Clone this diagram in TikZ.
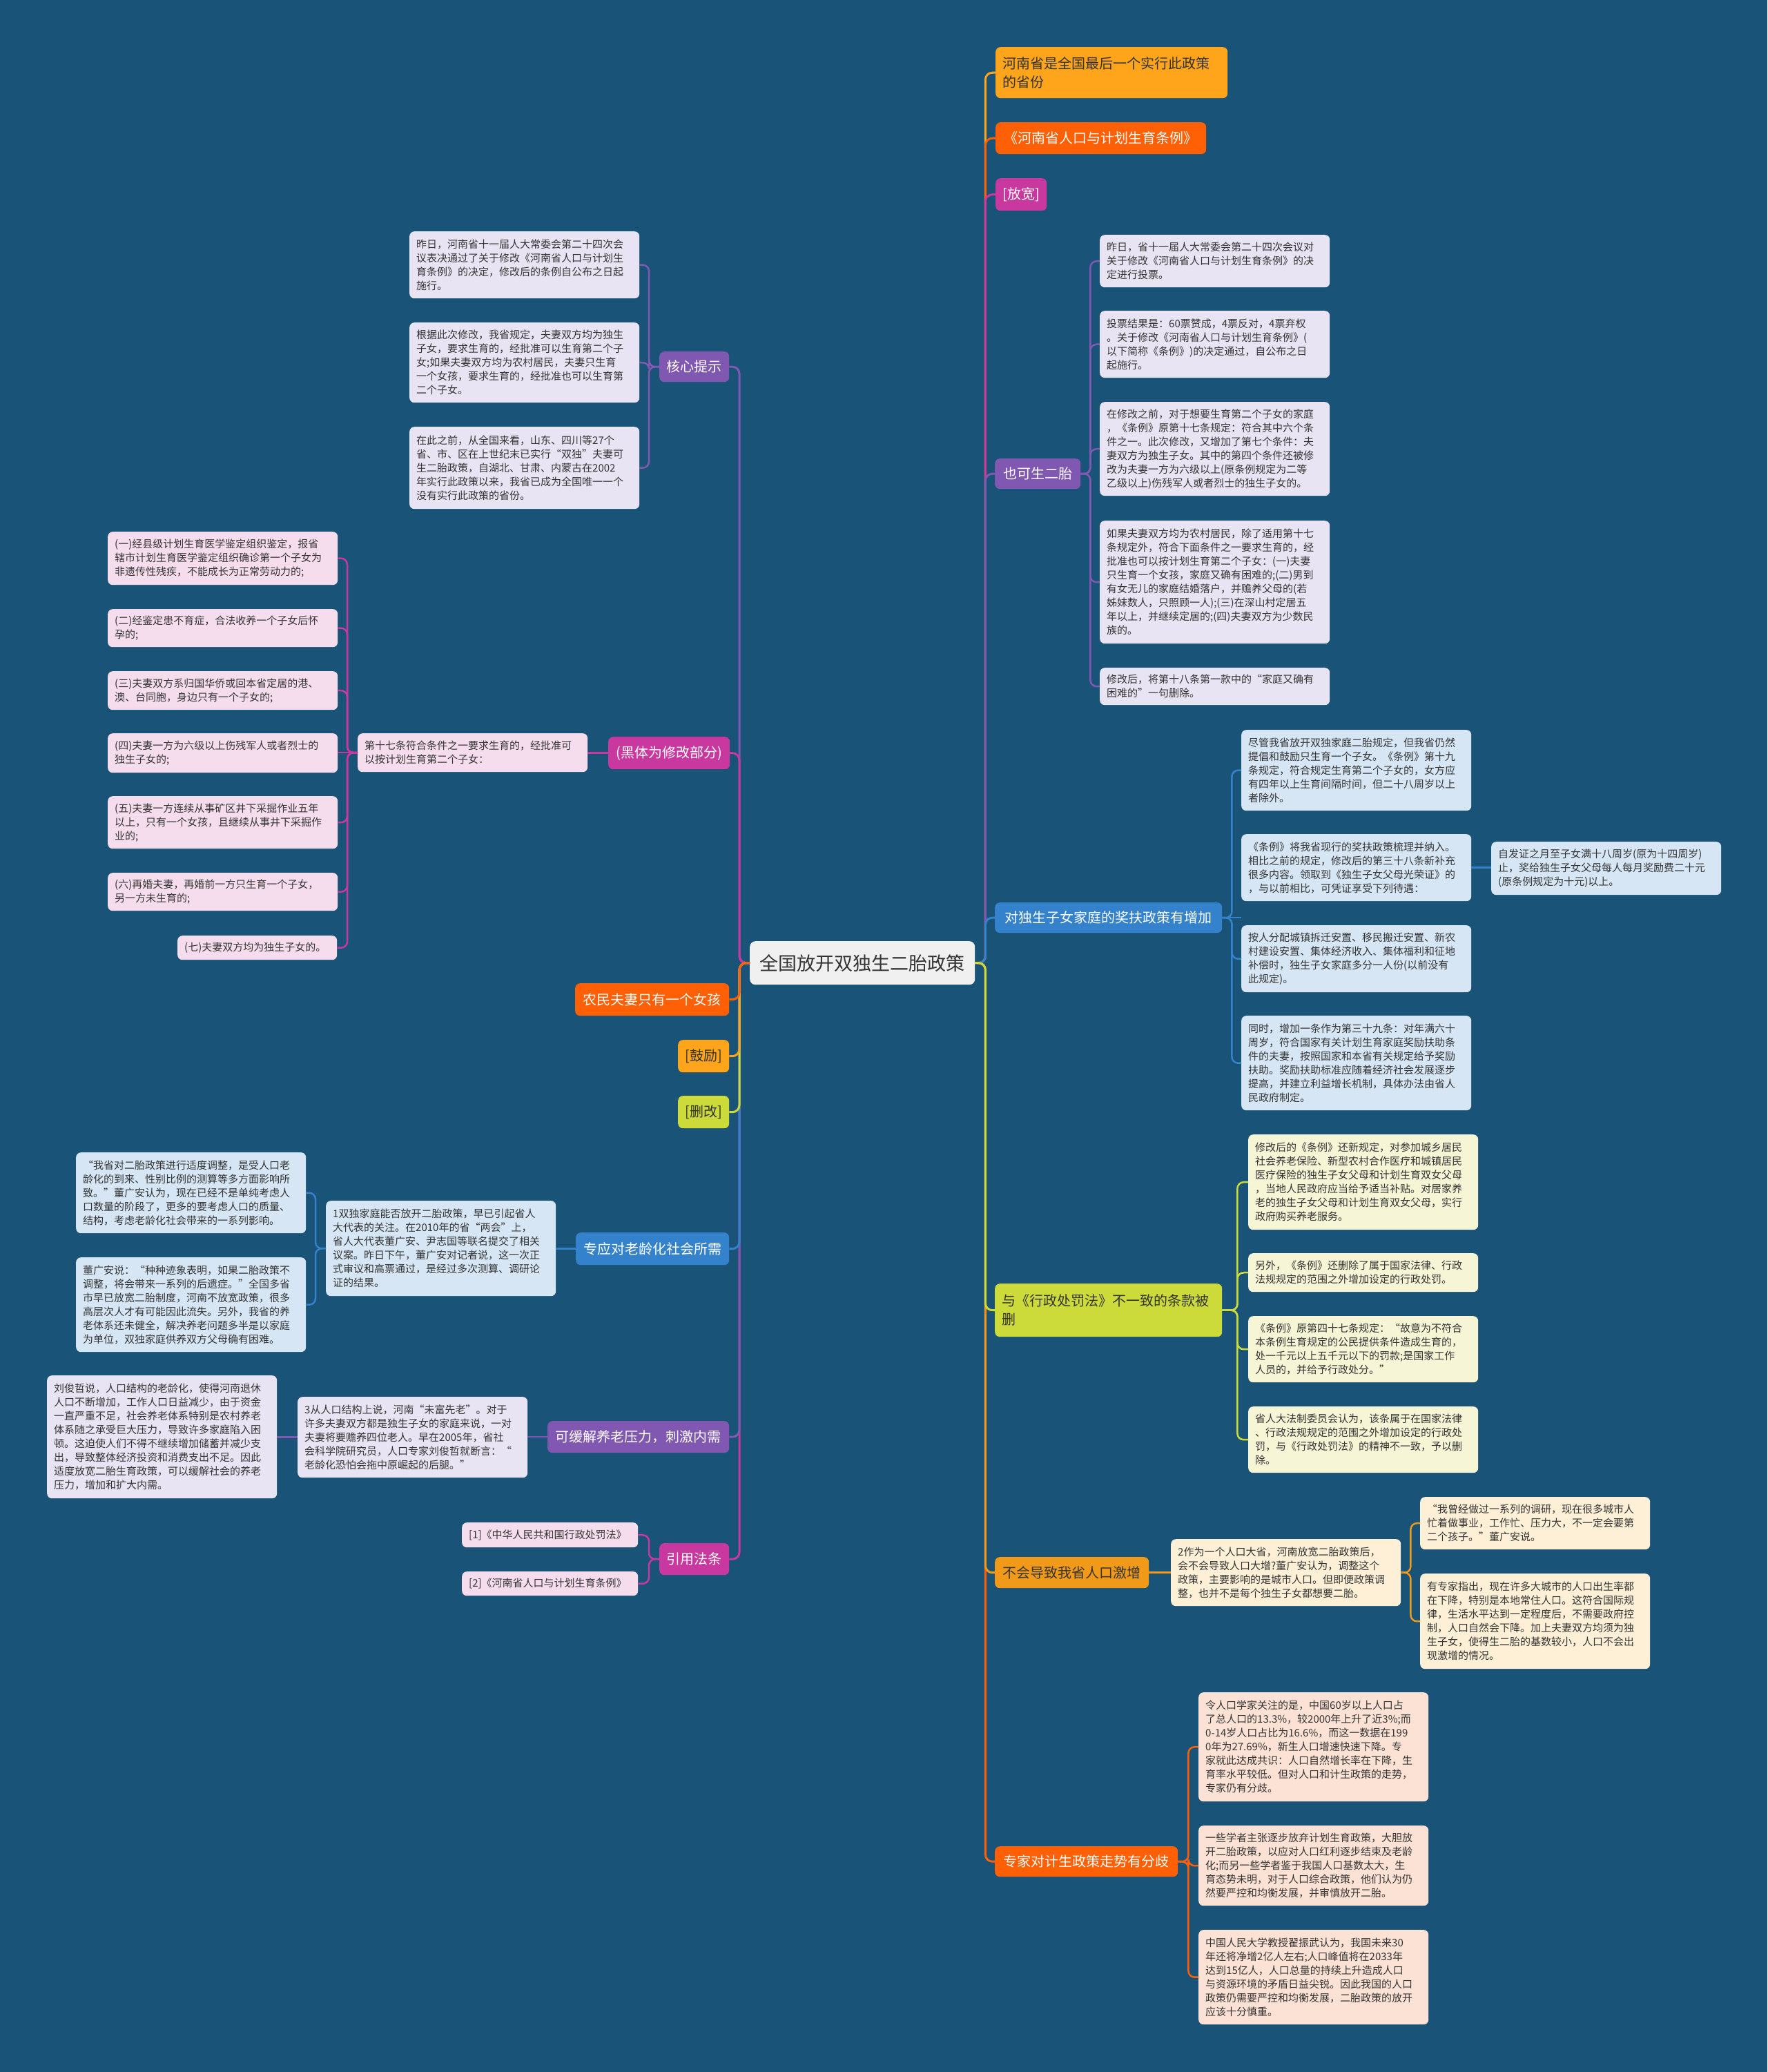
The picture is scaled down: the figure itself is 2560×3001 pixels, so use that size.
\documentclass[tikz,border=0pt]{standalone}
\usepackage{fontspec}
\setmainfont{Noto Sans CJK SC}
\usepackage{tikz}
\usetikzlibrary{calc}

\definecolor{bgblue}{RGB}{26,83,120}
\definecolor{rootgray}{RGB}{240,240,240}
\definecolor{inkdark}{RGB}{51,51,51}
\definecolor{cGold}{RGB}{255,165,28}
\definecolor{cRed}{RGB}{255,95,5}
\definecolor{cMagenta}{RGB}{200,56,158}
\definecolor{cPurple}{RGB}{128,88,178}
\definecolor{cBlue}{RGB}{52,130,204}
\definecolor{cLime}{RGB}{204,219,57}
\definecolor{cAmber}{RGB}{241,154,25}
\definecolor{fLav}{RGB}{232,228,243}
\definecolor{fPink}{RGB}{246,221,238}
\definecolor{fSky}{RGB}{214,230,245}
\definecolor{fLime}{RGB}{246,245,214}
\definecolor{fCream}{RGB}{253,240,214}
\definecolor{fPeach}{RGB}{252,226,212}

\newcommand\rootfont{\fontsize{27}{32}\selectfont}
\newcommand\topicfont{\fontsize{20}{27}\selectfont}
\newcommand\notefont{\fontsize{15}{20}\selectfont}

\begin{document}
\begin{tikzpicture}[
    x=1pt, y=-1pt,
    root/.style={fill=rootgray, rounded corners=8pt, anchor=north west, font=\rootfont, text=inkdark, minimum width=326pt, minimum height=63pt, inner sep=0pt},
    topic/.style={fill=#1, rounded corners=7pt, anchor=north west, font=\topicfont, text=white, inner sep=0pt},
    note/.style={fill=#1, rounded corners=7pt, anchor=north west, font=\notefont, text=inkdark, align=left, inner xsep=10pt, inner ysep=4pt, minimum width=333pt, text width=313pt},
    link/.style={draw=#1, line width=3pt, rounded corners=10pt},
    sublink/.style={draw=#1, line width=2.5pt, rounded corners=9pt}
]
\useasboundingbox (0,0) rectangle (2560,3001);
\fill[bgblue] (0,0) rectangle (2560,3001);

% centre
\node[root] (root) at (1086,1363) {全国放开双独生二胎政策};

% left topics
\node[topic=cPurple, minimum width=101pt, minimum height=44pt] (hx) at (955,509) {核心提示};
\node[topic=cMagenta, minimum width=176pt, minimum height=47pt] (hb) at (881,1067) {(黑体为修改部分)};
\node[topic=cRed, minimum width=223pt, minimum height=47pt] (nm) at (833,1424) {农民夫妻只有一个女孩};
\node[topic=cGold, text=inkdark, minimum width=74pt, minimum height=47pt] (gl) at (982,1506) {[鼓励]};
\node[topic=cLime, text=inkdark, minimum width=74pt, minimum height=47pt] (sg) at (982,1587) {[删改]};
\node[topic=cBlue, minimum width=222pt, minimum height=47pt] (ll) at (834,1785) {专应对老龄化社会所需};
\node[topic=cPurple, minimum width=263pt, minimum height=46pt] (yl) at (793,2058) {可缓解养老压力，刺激内需};
\node[topic=cMagenta, minimum width=101pt, minimum height=46pt] (yf) at (955,2235) {引用法条};

% right topics
\node[topic=cGold, text=inkdark, minimum width=336pt, minimum height=74pt, text width=316pt, align=left] (zh) at (1442,68) {河南省是全国最后一个实行此政策\\的省份};
\node[topic=cRed, minimum width=305pt, minimum height=46pt] (tl) at (1442,177) {《河南省人口与计划生育条例》};
\node[topic=cMagenta, minimum width=74pt, minimum height=47pt] (fk) at (1442,258) {[放宽]};
\node[topic=cPurple, minimum width=124pt, minimum height=44pt] (ek) at (1441,664) {也可生二胎};
\node[topic=cBlue, minimum width=329pt, minimum height=44pt] (jf) at (1441,1307) {对独生子女家庭的奖扶政策有增加};
\node[topic=cLime, text=inkdark, minimum width=329pt, minimum height=77pt, text width=309pt, align=left] (cf) at (1441,1859) {与《行政处罚法》不一致的条款被\\删};
\node[topic=cAmber, text=inkdark, minimum width=223pt, minimum height=45pt] (jz) at (1441,2255) {不会导致我省人口激增};
\node[topic=cRed, minimum width=265pt, minimum height=44pt] (fq) at (1441,2674) {专家对计生政策走势有分歧};

% 核心提示
\node[note=fLav, minimum height=97pt] (hx1) at (593,335) {昨日，河南省十一届人大常委会第二十四次会\\议表决通过了关于修改《河南省人口与计划生\\育条例》的决定，修改后的条例自公布之日起\\施行。};
\node[note=fLav, minimum height=116pt] (hx2) at (593,467) {根据此次修改，我省规定，夫妻双方均为独生\\子女，要求生育的，经批准可以生育第二个子\\女;如果夫妻双方均为农村居民，夫妻只生育\\一个女孩，要求生育的，经批准也可以生育第\\二个子女。};
\node[note=fLav, minimum height=119pt] (hx3) at (593,618) {在此之前，从全国来看，山东、四川等27个\\省、市、区在上世纪末已实行“双独”夫妻可\\生二胎政策，自湖北、甘肃、内蒙古在2002\\年实行此政策以来，我省已成为全国唯一一个\\没有实行此政策的省份。};

% 黑体为修改部分
\node[note=fPink, minimum height=56pt] (hb0) at (518,1062) {第十七条符合条件之一要求生育的，经批准可\\以按计划生育第二个子女：};
\node[note=fPink, minimum height=77pt] (hb1) at (156,770) {(一)经县级计划生育医学鉴定组织鉴定，报省\\辖市计划生育医学鉴定组织确诊第一个子女为\\非遗传性残疾，不能成长为正常劳动力的;};
\node[note=fPink, minimum height=55pt] (hb2) at (156,882) {(二)经鉴定患不育症，合法收养一个子女后怀\\孕的;};
\node[note=fPink, minimum height=56pt] (hb3) at (156,972) {(三)夫妻双方系归国华侨或回本省定居的港、\\澳、台同胞，身边只有一个子女的;};
\node[note=fPink, minimum height=57pt] (hb4) at (156,1062) {(四)夫妻一方为六级以上伤残军人或者烈士的\\独生子女的;};
\node[note=fPink, minimum height=76pt] (hb5) at (156,1153) {(五)夫妻一方连续从事矿区井下采掘作业五年\\以上，只有一个女孩，且继续从事井下采掘作\\业的;};
\node[note=fPink, minimum height=55pt] (hb6) at (156,1264) {(六)再婚夫妻，再婚前一方只生育一个子女，\\另一方未生育的;};
\node[note=fPink, minimum height=35pt, minimum width=231pt, text width=211pt] (hb7) at (257,1355) {(七)夫妻双方均为独生子女的。};

% 老龄化
\node[note=fSky, minimum height=138pt] (ll0) at (472,1739) {1双独家庭能否放开二胎政策，早已引起省人\\大代表的关注。在2010年的省“两会”上，\\省人大代表董广安、尹志国等联名提交了相关\\议案。昨日下午，董广安对记者说，这一次正\\式审议和高票通过，是经过多次测算、调研论\\证的结果。};
\node[note=fSky, minimum height=117pt] (ll1) at (110,1669) {“我省对二胎政策进行适度调整，是受人口老\\龄化的到来、性别比例的测算等多方面影响所\\致。”董广安认为，现在已经不是单纯考虑人\\口数量的阶段了，更多的要考虑人口的质量、\\结构，考虑老龄化社会带来的一系列影响。};
\node[note=fSky, minimum height=137pt] (ll2) at (110,1821) {董广安说：“种种迹象表明，如果二胎政策不\\调整，将会带来一系列的后遗症。”全国多省\\市早已放宽二胎制度，河南不放宽政策，很多\\高层次人才有可能因此流失。另外，我省的养\\老体系还未健全，解决养老问题多半是以家庭\\为单位，双独家庭供养双方父母确有困难。};

% 养老压力
\node[note=fLav, minimum height=117pt] (yl0) at (431,2023) {3从人口结构上说，河南“未富先老”。对于\\许多夫妻双方都是独生子女的家庭来说，一对\\夫妻将要赡养四位老人。早在2005年，省社\\会科学院研究员，人口专家刘俊哲就断言：“\\老龄化恐怕会拖中原崛起的后腿。”};
\node[note=fLav, minimum height=178pt] (yl1) at (68,1992) {刘俊哲说，人口结构的老龄化，使得河南退休\\人口不断增加，工作人口日益减少，由于资金\\一直严重不足，社会养老体系特别是农村养老\\体系随之承受巨大压力，导致许多家庭陷入困\\顿。这迫使人们不得不继续增加储蓄并减少支\\出，导致整体经济投资和消费支出不足。因此\\适度放宽二胎生育政策，可以缓解社会的养老\\压力，增加和扩大内需。};

% 引用法条
\node[note=fPink, minimum height=36pt, minimum width=255pt, text width=235pt] (yf1) at (669,2205) {[1]《中华人民共和国行政处罚法》};
\node[note=fPink, minimum height=35pt, minimum width=255pt, text width=235pt] (yf2) at (669,2276) {[2]《河南省人口与计划生育条例》};

% 也可生二胎
\node[note=fLav, minimum height=76pt] (ek1) at (1593,340) {昨日，省十一届人大常委会第二十四次会议对\\关于修改《河南省人口与计划生育条例》的决\\定进行投票。};
\node[note=fLav, minimum height=97pt] (ek2) at (1593,450) {投票结果是：60票赞成，4票反对，4票弃权\\。关于修改《河南省人口与计划生育条例》(\\以下简称《条例》)的决定通过，自公布之日\\起施行。};
\node[note=fLav, minimum height=136pt] (ek3) at (1593,582) {在修改之前，对于想要生育第二个子女的家庭\\，《条例》原第十七条规定：符合其中六个条\\件之一。此次修改，又增加了第七个条件：夫\\妻双方为独生子女。其中的第四个条件还被修\\改为夫妻一方为六级以上(原条例规定为二等\\乙级以上)伤残军人或者烈士的独生子女的。};
\node[note=fLav, minimum height=178pt] (ek4) at (1593,754) {如果夫妻双方均为农村居民，除了适用第十七\\条规定外，符合下面条件之一要求生育的，经\\批准也可以按计划生育第二个子女：(一)夫妻\\只生育一个女孩，家庭又确有困难的;(二)男到\\有女无儿的家庭结婚落户，并赡养父母的(若\\姊妹数人，只照顾一人);(三)在深山村定居五\\年以上，并继续定居的;(四)夫妻双方为少数民\\族的。};
\node[note=fLav, minimum height=54pt] (ek5) at (1593,967) {修改后，将第十八条第一款中的“家庭又确有\\困难的”一句删除。};

% 奖扶政策
\node[note=fSky, minimum height=117pt] (jf1) at (1798,1057) {尽管我省放开双独家庭二胎规定，但我省仍然\\提倡和鼓励只生育一个子女。《条例》第十九\\条规定，符合规定生育第二个子女的，女方应\\有四年以上生育间隔时间，但二十八周岁以上\\者除外。};
\node[note=fSky, minimum height=97pt] (jf2) at (1798,1208) {《条例》将我省现行的奖扶政策梳理并纳入。\\相比之前的规定，修改后的第三十八条新补充\\很多内容。领取到《独生子女父母光荣证》的\\，与以前相比，可凭证享受下列待遇：};
\node[note=fSky, minimum height=77pt] (jf21) at (2160,1219) {自发证之月至子女满十八周岁(原为十四周岁)\\止，奖给独生子女父母每人每月奖励费二十元\\(原条例规定为十元)以上。};
\node[note=fSky, minimum height=97pt] (jf3) at (1798,1340) {按人分配城镇拆迁安置、移民搬迁安置、新农\\村建设安置、集体经济收入、集体福利和征地\\补偿时，独生子女家庭多分一人份(以前没有\\此规定)。};
\node[note=fSky, minimum height=137pt] (jf4) at (1798,1471) {同时，增加一条作为第三十九条：对年满六十\\周岁，符合国家有关计划生育家庭奖励扶助条\\件的夫妻，按照国家和本省有关规定给予奖励\\扶助。奖励扶助标准应随着经济社会发展逐步\\提高，并建立利益增长机制，具体办法由省人\\民政府制定。};

% 行政处罚法
\node[note=fLime, minimum height=138pt] (cf1) at (1808,1643) {修改后的《条例》还新规定，对参加城乡居民\\社会养老保险、新型农村合作医疗和城镇居民\\医疗保险的独生子女父母和计划生育双女父母\\，当地人民政府应当给予适当补贴。对居家养\\老的独生子女父母和计划生育双女父母，实行\\政府购买养老服务。};
\node[note=fLime, minimum height=56pt] (cf2) at (1808,1815) {另外，《条例》还删除了属于国家法律、行政\\法规规定的范围之外增加设定的行政处罚。};
\node[note=fLime, minimum height=96pt] (cf3) at (1808,1906) {《条例》原第四十七条规定：“故意为不符合\\本条例生育规定的公民提供条件造成生育的，\\处一千元以上五千元以下的罚款;是国家工作\\人员的，并给予行政处分。”};
\node[note=fLime, minimum height=96pt] (cf4) at (1808,2037) {省人大法制委员会认为，该条属于在国家法律\\、行政法规规定的范围之外增加设定的行政处\\罚，与《行政处罚法》的精神不一致，予以删\\除。};

% 人口激增
\node[note=fCream, minimum height=97pt] (jz0) at (1696,2229) {2作为一个人口大省，河南放宽二胎政策后，\\会不会导致人口大增?董广安认为，调整这个\\政策，主要影响的是城市人口。但即便政策调\\整，也并不是每个独生子女都想要二胎。};
\node[note=fCream, minimum height=76pt] (jz1) at (2057,2168) {“我曾经做过一系列的调研，现在很多城市人\\忙着做事业，工作忙、压力大，不一定会要第\\二个孩子。”董广安说。};
\node[note=fCream, minimum height=138pt] (jz2) at (2057,2279) {有专家指出，现在许多大城市的人口出生率都\\在下降，特别是本地常住人口。这符合国际规\\律，生活水平达到一定程度后，不需要政府控\\制，人口自然会下降。加上夫妻双方均须为独\\生子女，使得生二胎的基数较小，人口不会出\\现激增的情况。};

% 专家分歧
\node[note=fPeach, minimum height=158pt] (fq1) at (1736,2451) {令人口学家关注的是，中国60岁以上人口占\\了总人口的13.3\%，较2000年上升了近3\%;而\\0-14岁人口占比为16.6\%，而这一数据在199\\0年为27.69\%，新生人口增速快速下降。专\\家就此达成共识：人口自然增长率在下降，生\\育率水平较低。但对人口和计生政策的走势，\\专家仍有分歧。};
\node[note=fPeach, minimum height=116pt] (fq2) at (1736,2644) {一些学者主张逐步放弃计划生育政策，大胆放\\开二胎政策，以应对人口红利逐步结束及老龄\\化;而另一些学者鉴于我国人口基数太大，生\\育态势未明，对于人口综合政策，他们认为仍\\然要严控和均衡发展，并审慎放开二胎。};
\node[note=fPeach, minimum height=137pt] (fq3) at (1736,2795) {中国人民大学教授翟振武认为，我国未来30\\年还将净增2亿人左右;人口峰值将在2033年\\达到15亿人，人口总量的持续上升造成人口\\与资源环境的矛盾日益尖锐。因此我国的人口\\政策仍需要严控和均衡发展，二胎政策的放开\\应该十分慎重。};

% trunk, left
\draw[link=cPurple] (root.west) -- ++(-15,0) |- (hx.east);
\draw[link=cMagenta] (root.west) -- ++(-15,0) |- (hb.east);
\draw[link=cMagenta] (root.west) -- ++(-15,0) |- (yf.east);
\draw[link=cPurple] (root.west) -- ++(-15,0) |- (yl.east);
\draw[link=cBlue] (root.west) -- ++(-15,0) |- (ll.east);
\draw[link=cLime] (root.west) -- ++(-15,0) |- (sg.east);
\draw[link=cGold] (root.west) -- ++(-15,0) |- (gl.east);
\draw[link=cRed] (root.west) -- ++(-15,0) |- (nm.east);

% trunk, right
\draw[link=cGold] (root.east) -- ++(15,0) |- (zh.west);
\draw[link=cRed] (root.east) -- ++(15,0) |- (tl.west);
\draw[link=cMagenta] (root.east) -- ++(15,0) |- (fk.west);
\draw[link=cPurple] (root.east) -- ++(15,0) |- (ek.west);
\draw[link=cBlue] (root.east) -- ++(15,0) |- (jf.west);
\draw[link=cRed] (root.east) -- ++(15,0) |- (fq.west);
\draw[link=cAmber] (root.east) -- ++(15,0) |- (jz.west);
\draw[link=cLime] (root.east) -- ++(15,0) |- (cf.west);

% sub links, left
\draw[sublink=cPurple] (hx.west) -- ++(-15,0) |- (hx1.east);
\draw[sublink=cPurple] (hx.west) -- ++(-15,0) |- (hx2.east);
\draw[sublink=cPurple] (hx.west) -- ++(-15,0) |- (hx3.east);
\draw[sublink=cMagenta] (hb.west) -- (hb.west -| hb0.east);
\draw[sublink=cMagenta] (hb0.west) -- ++(-15,0) |- (hb1.east);
\draw[sublink=cMagenta] (hb0.west) -- ++(-15,0) |- (hb2.east);
\draw[sublink=cMagenta] (hb0.west) -- ++(-15,0) |- (hb3.east);
\draw[sublink=cMagenta] (hb0.west) -- (hb0.west -| hb4.east);
\draw[sublink=cMagenta] (hb0.west) -- ++(-15,0) |- (hb5.east);
\draw[sublink=cMagenta] (hb0.west) -- ++(-15,0) |- (hb6.east);
\draw[sublink=cMagenta] (hb0.west) -- ++(-15,0) |- (hb7.east);
\draw[sublink=cBlue] (ll.west) -- (ll.west -| ll0.east);
\draw[sublink=cBlue] (ll0.west) -- ++(-15,0) |- (ll1.east);
\draw[sublink=cBlue] (ll0.west) -- ++(-15,0) |- (ll2.east);
\draw[sublink=cPurple] (yl.west) -- (yl.west -| yl0.east);
\draw[sublink=cPurple] (yl0.west) -- (yl0.west -| yl1.east);
\draw[sublink=cMagenta] (yf.west) -- ++(-15,0) |- (yf1.east);
\draw[sublink=cMagenta] (yf.west) -- ++(-15,0) |- (yf2.east);

% sub links, right
\draw[sublink=cPurple] (ek.east) -- ++(14,0) |- (ek1.west);
\draw[sublink=cPurple] (ek.east) -- ++(14,0) |- (ek2.west);
\draw[sublink=cPurple] (ek.east) -- ++(14,0) |- (ek3.west);
\draw[sublink=cPurple] (ek.east) -- ++(14,0) |- (ek4.west);
\draw[sublink=cPurple] (ek.east) -- ++(14,0) |- (ek5.west);
\draw[sublink=cBlue] (jf.east) -- ++(14,0) |- (jf1.west);
\draw[sublink=cBlue] (jf.east) -- (jf.east -| jf2.west);
\draw[sublink=cBlue] (jf.east) -- ++(14,0) |- (jf3.west);
\draw[sublink=cBlue] (jf.east) -- ++(14,0) |- (jf4.west);
\draw[sublink=cBlue] (jf2.east) -- (jf2.east -| jf21.west);
\draw[sublink=cLime] (cf.east) -- ++(22,0) |- (cf1.west);
\draw[sublink=cLime] (cf.east) -- ++(22,0) |- (cf2.west);
\draw[sublink=cLime] (cf.east) -- ++(22,0) |- (cf3.west);
\draw[sublink=cLime] (cf.east) -- ++(22,0) |- (cf4.west);
\draw[sublink=cAmber] (jz.east) -- (jz.east -| jz0.west);
\draw[sublink=cAmber] (jz0.east) -- ++(14,0) |- (jz1.west);
\draw[sublink=cAmber] (jz0.east) -- ++(14,0) |- (jz2.west);
\draw[sublink=cRed] (fq.east) -- ++(15,0) |- (fq1.west);
\draw[sublink=cRed] (fq.east) -- ++(15,0) |- (fq2.west);
\draw[sublink=cRed] (fq.east) -- ++(15,0) |- (fq3.west);
\end{tikzpicture}
\end{document}
